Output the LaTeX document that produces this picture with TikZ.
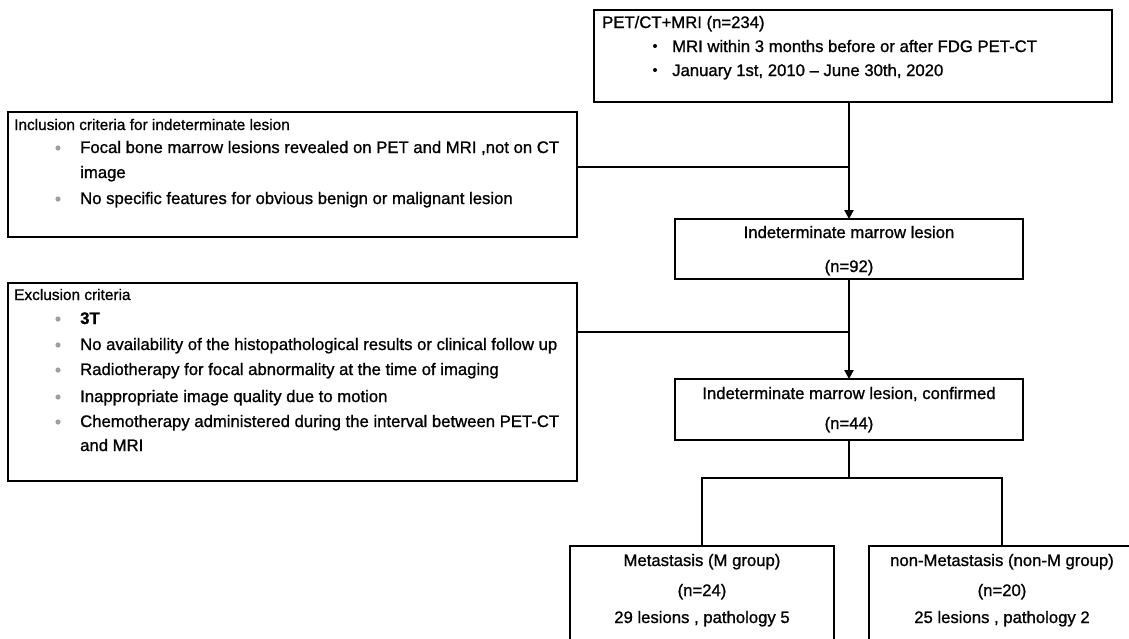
\documentclass[tikz,border=0pt]{standalone}
\usepackage{fontspec}
\setmainfont{Liberation Sans}[FakeBold=1.0]
\usetikzlibrary{arrows.meta}
\begin{document}
\begin{tikzpicture}[x=1pt,y=-1pt,
  box/.style={draw, line width=1.4pt, inner sep=0pt, outer sep=0pt},
  txt/.style={anchor=base west, inner sep=0pt, font=\fontsize{16.7}{19}\selectfont},
  ttl/.style={anchor=base west, inner sep=0pt, font=\fontsize{15.4}{18}\selectfont},
  ctxt/.style={anchor=base, inner sep=0pt, font=\fontsize{16.7}{19}\selectfont},
  conn/.style={line width=2.2pt},
  arr/.style={conn, -{Triangle[length=9pt,width=9pt]}},
  gdot/.style={fill=gray!75, draw=none},
  kdot/.style={fill=black, draw=none}]
\useasboundingbox (0,0) rectangle (1129,638);
\clip (0,0) rectangle (1129,638);
\fill[white] (0,0) rectangle (1129,638);

% boxes
\node[box, minimum width=518pt, minimum height=92pt] (top) at (853,56) {};
\node[box, minimum width=569pt, minimum height=125pt] (incl) at (292.5,174.5) {};
\node[box, minimum width=348pt, minimum height=60pt] (ind) at (849,249) {};
\node[box, minimum width=569pt, minimum height=198pt] (excl) at (292.5,382) {};
\node[box, minimum width=348pt, minimum height=61pt] (conf) at (849,409.5) {};
\node[box, minimum width=264pt, minimum height=120pt] (ml) at (702,606) {};
\node[box, minimum width=266pt, minimum height=120pt] (nm) at (1002,606) {};

% top box text
\node[txt] (t0) at (602,28) {PET/CT+MRI (n=234)};
\fill[kdot] (655,46) circle (2pt);
\node[txt] (t1) at (672,52) {MRI within 3 months before or after FDG PET-CT};
\fill[kdot] (655,70) circle (2pt);
\node[txt] (t2) at (672,76) {January 1st, 2010 -- June 30th, 2020};

% inclusion text
\node[ttl] (i0) at (14,130) {Inclusion criteria for indeterminate lesion};
\fill[gdot] (58,148) circle (2.6pt);
\node[txt] (i1) at (80,153) {Focal bone marrow lesions revealed on PET and MRI ,not on CT};
\node[txt] (i1b) at (80,178) {image};
\fill[gdot] (58,199) circle (2.6pt);
\node[txt] (i2) at (80,204) {No specific features for obvious benign or malignant lesion};

% exclusion text
\node[ttl] (e0) at (14,300) {Exclusion criteria};
\fill[gdot] (58,319) circle (2.6pt);
\node[txt] (e1) at (80,324) {\bfseries 3T};
\fill[gdot] (58,345) circle (2.6pt);
\node[txt] (e2) at (80,350) {No availability of the histopathological results or clinical follow up};
\fill[gdot] (58,370) circle (2.6pt);
\node[txt] (e3) at (80,375) {Radiotherapy for focal abnormality at the time of imaging};
\fill[gdot] (58,397) circle (2.6pt);
\node[txt] (e4) at (80,402) {Inappropriate image quality due to motion};
\fill[gdot] (58,422) circle (2.6pt);
\node[txt] (e5) at (80,427) {Chemotherapy administered during the interval between PET-CT};
\node[txt] (e5b) at (80,451) {and MRI};

% center boxes text
\node[ctxt] (n1) at (849,238) {Indeterminate marrow lesion};
\node[ctxt] (n2) at (849,272) {(n=92)};
\node[ctxt] (c1) at (849,399) {Indeterminate marrow lesion, confirmed};
\node[ctxt] (c2) at (849,429) {(n=44)};

% bottom boxes text
\node[ctxt] (m1) at (702,566) {Metastasis (M group)};
\node[ctxt] (m2) at (702,596) {(n=24)};
\node[ctxt] (m3) at (702,623) {29 lesions , pathology 5};
\node[ctxt] (q1) at (1002,566) {non-Metastasis (non-M group)};
\node[ctxt] (q2) at (1002,596) {(n=20)};
\node[ctxt] (q3) at (1002,623) {25 lesions , pathology 2};

% connectors
\coordinate (j1) at (849,167);
\coordinate (j2) at (849,332);
\coordinate (br) at (849,478);
\draw[arr] (ind.north |- top.south) -- (ind.north);
\draw[conn] (incl.east |- j1) -- (j1);
\draw[arr] (ind.south) -- (conf.north);
\draw[conn] (excl.east |- j2) -- (j2);
\draw[conn] (conf.south) -- (br);
\draw[conn] (ml.north) -- (ml.north |- br) -- (nm.north |- br) -- (nm.north);
\end{tikzpicture}
\end{document}
